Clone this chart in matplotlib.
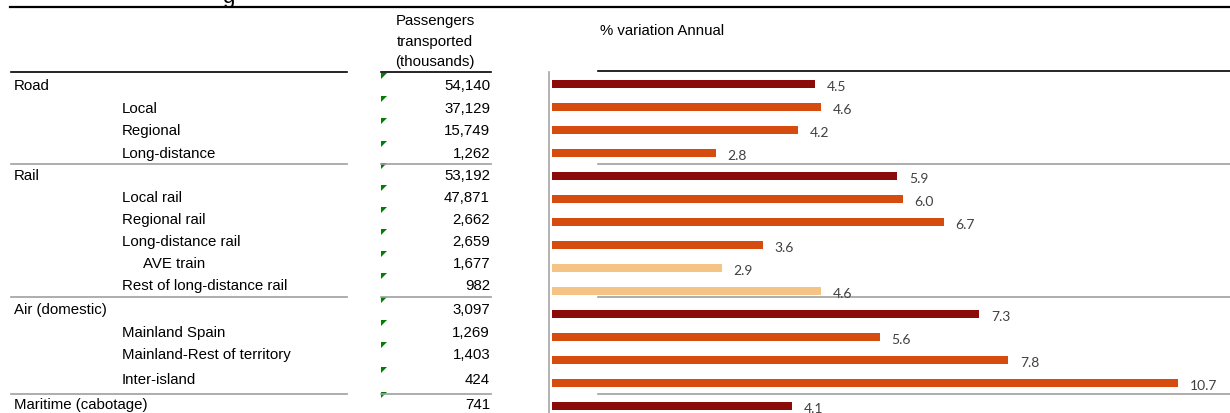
import matplotlib.pyplot as plt
from matplotlib.patches import Polygon

# Data
categories = ["Road", "Local", "Regional", "Long-distance",
              "Rail", "Local rail", "Regional rail", "Long-distance rail",
              "AVE train", "Rest of long-distance rail",
              "Air (domestic)", "Mainland Spain", "Mainland-Rest of territory", "Inter-island",
              "Maritime (cabotage)"]
levels = [0, 1, 1, 1, 0, 1, 1, 1, 2, 1, 0, 1, 1, 1, 0]
passengers = ["54,140", "37,129", "15,749", "1,262",
              "53,192", "47,871", "2,662", "2,659", "1,677", "982",
              "3,097", "1,269", "1,403", "424",
              "741"]
pct_annual = [4.5, 4.6, 4.2, 2.8, 5.9, 6.0, 6.7, 3.6, 2.9, 4.6, 7.3, 5.6, 7.8, 10.7, 4.1]
bar_kind = ["total", "sub", "sub", "sub", "total", "sub", "sub", "sub", "light", "light",
            "total", "sub", "sub", "sub", "total"]

# Layout (pixels)
W, H = 1230, 414
row_y = [86, 109, 131, 154, 176, 198, 220, 242, 264, 286, 310, 333, 355, 380, 405]
indent_x = [14, 122, 143]
sep_y = [165, 298, 395]

kind_colors = {"total": "#8B0A0A", "sub": "#D64B0E", "light": "#F5C484"}
table_font = "Liberation Sans"
fs = 10.8

fig = plt.figure(figsize=(W / 100, H / 100), dpi=100)

# background axes in pixel coordinates for the table part
bg = fig.add_axes([0, 0, 1, 1])
bg.set_xlim(0, W)
bg.set_ylim(H, 0)
bg.axis("off")

# cut-off title fragment at the very top
bg.text(222, 3, "g", fontsize=16, family=table_font, va="baseline", ha="left")

# rules
bg.plot([10, W], [8, 8], color="black", lw=1.6)
bg.plot([11, 347], [73, 73], color="black", lw=1.2)
bg.plot([381, 491], [73, 73], color="black", lw=1.2)
bg.plot([598, W], [72, 72], color="black", lw=1.2)
for y in sep_y:
    bg.plot([11, 347], [y, y], color="#A0A0A0", lw=1.2)
    bg.plot([381, 491], [y, y], color="#A0A0A0", lw=1.2)
    bg.plot([598, W], [y, y], color="#A0A0A0", lw=1.2)

# headers
for txt, y in zip(["Passengers", "transported", "(thousands)"], [21, 42, 62]):
    bg.text(435, y, txt, fontsize=fs, family=table_font, ha="center", va="center")
bg.text(600, 31, "% variation Annual", fontsize=fs, family=table_font, ha="left", va="center")

# table rows
for cat, lev, num, y in zip(categories, levels, passengers, row_y):
    bg.text(indent_x[lev], y, cat, fontsize=fs, family=table_font, ha="left", va="center")
    bg.text(490, y, num, fontsize=fs, family=table_font, ha="right", va="center")
    ty = y - 12
    bg.add_patch(Polygon([[381, ty], [387, ty], [381, ty + 6]], closed=True,
                         facecolor="#008000", edgecolor="none"))

# bar chart
px_per_unit = 58.5
left = 549
ax = fig.add_axes([left / W, 0, (W - left) / W, (H - 73) / H])
ax.patch.set_alpha(0)
idx = list(range(len(pct_annual)))
colors = [kind_colors[k] for k in bar_kind]
ax.barh(idx, pct_annual, height=0.38, color=colors)
for i, v in zip(idx, pct_annual):
    ax.text(v + 0.2, i + 0.08, f"{v:.1f}", fontsize=10, family="Lato",
            color="#404040", ha="left", va="center")
x0 = -3 / px_per_unit
ax.set_xlim(x0, x0 + (W - left) / px_per_unit)
ax.set_ylim((H - 85) / 23, -12 / 23)
for s in ["top", "right", "bottom"]:
    ax.spines[s].set_visible(False)
ax.spines["left"].set_color("#A6A6A6")
ax.spines["left"].set_linewidth(1.2)
ax.set_xticks([])
ax.set_yticks([])

fig.savefig("out.png", dpi=100)
